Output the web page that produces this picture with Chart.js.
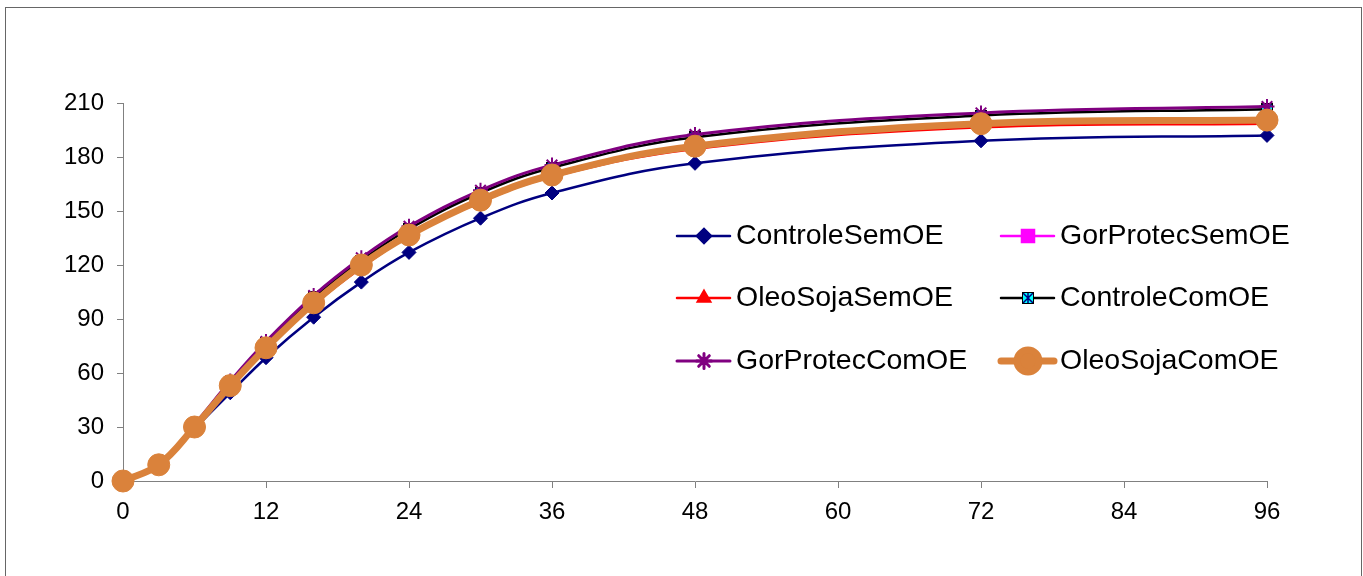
<!DOCTYPE html>
<html>
<head>
<meta charset="utf-8">
<script src="https://cdn.jsdelivr.net/npm/chart.js@4"></script>
<style>
    html, body { margin: 0; padding: 0; background: #fff; }
    #wrap { width: 1363px; height: 576px; }
</style>
</head>
<body>
<div id="wrap"><canvas id="curvesChart" width="1363" height="576"></canvas></div>
<script>
    // Hours and cumulative values
    const hours = [0, 3, 6, 9, 12, 16, 20, 24, 30, 36, 48, 72, 96];
    const xTicks = [0, 12, 24, 36, 48, 60, 72, 84, 96];
    const yTicks = [0, 30, 60, 90, 120, 150, 180, 210];

    const controleSemOE   = [0, 8.5, 29, 49, 68.5, 91, 110.5, 127, 146, 160, 176.5, 189, 192];
    const gorProtecSemOE  = [0, 9, 30, 52.5, 73.5, 98.5, 119, 136.5, 155.5, 169.5, 185.5, 197.5, 200];
    const oleoSojaSemOE   = [0, 9, 30, 52.5, 73, 98, 118.5, 136, 155, 169, 184.5, 196.5, 198.5];
    const controleComOE   = [0, 9, 31, 55, 76.5, 102, 122.5, 140, 160, 174, 191, 203, 206.5];
    const gorProtecComOE  = [0, 9.5, 31.5, 55.5, 77.5, 103, 124, 141.5, 161.5, 175.5, 192.5, 204.5, 208];
    const oleoSojaComOE   = [0, 9, 30, 53, 74, 99, 120, 136.7, 156, 170, 186, 198.5, 200.5];

    const seriesNames = ['ControleSemOE', 'GorProtecSemOE', 'OleoSojaSemOE', 'ControleComOE', 'GorProtecComOE', 'OleoSojaComOE'];

    function toPoints(values) {
        return hours.map((h, i) => ({ x: h, y: values[i] }));
    }

    // cyan box with an X, like the Excel marker
    function boxX(size) {
        const c = document.createElement('canvas');
        c.width = size; c.height = size;
        const g = c.getContext('2d');
        g.fillStyle = '#00FFFF';
        g.fillRect(0, 0, size, size);
        g.strokeStyle = '#000080';
        g.lineWidth = 1.5;
        g.beginPath();
        g.moveTo(1, 1); g.lineTo(size - 1, size - 1);
        g.moveTo(size - 1, 1); g.lineTo(1, size - 1);
        g.moveTo(size / 2, 0); g.lineTo(size / 2, size);
        g.stroke();
        g.strokeStyle = '#000';
        g.lineWidth = 1;
        g.strokeRect(0.5, 0.5, size - 1, size - 1);
        return c;
    }
    const cyanX = boxX(12);

    const frame = {
        id: 'frame',
        beforeDraw(chart) {
            const c = chart.ctx;
            c.save();
            c.fillStyle = '#fff';
            c.fillRect(0, 0, chart.width, chart.height);
            c.strokeStyle = '#666';
            c.lineWidth = 1;
            c.strokeRect(5.5, 7.5, 1356, 620);
            c.restore();
        }
    };

    // two-column legend sitting inside the plot
    const insideLegend = {
        id: 'insideLegend',
        afterDraw(chart) {
            const c = chart.ctx;
            const cols = [677, 1001];
            const rows = [236, 298, 361];
            c.save();
            chart.data.datasets.forEach((ds, i) => {
                const x = cols[i % 2];
                const y = rows[Math.floor(i / 2)];
                c.strokeStyle = ds.borderColor;
                c.lineWidth = ds.borderWidth;
                c.lineCap = 'round';
                c.beginPath();
                c.moveTo(x, y);
                c.lineTo(x + 53, y);
                c.stroke();
                c.fillStyle = ds.pointBackgroundColor;
                c.strokeStyle = ds.pointBorderColor;
                Chart.helpers.drawPoint(c, {
                    pointStyle: ds.pointStyle,
                    radius: ds.pointRadius,
                    borderWidth: ds.pointBorderWidth,
                    rotation: 0
                }, x + 27, y);
                c.fillStyle = '#000';
                c.font = '28.5px "Liberation Sans", Arial, sans-serif';
                c.textBaseline = 'middle';
                c.fillText(ds.label, x + 59, y);
            });
            c.restore();
        }
    };

    const styles = [
        { color: '#000080', fill: '#000080', style: 'rectRot', r: 7, w: 2.5 },
        { color: '#FF00FF', fill: '#FF00FF', style: 'rect', r: 8.5, w: 2.5 },
        { color: '#FF0000', fill: '#FF0000', style: 'triangle', r: 7, w: 2.5 },
        { color: '#000000', fill: '#00FFFF', style: cyanX, r: 6, w: 2.5 },
        { color: '#800080', fill: '#800080', style: 'star', r: 7.5, w: 3 },
        { color: '#DA823B', fill: '#DA823B', style: 'circle', r: 11, w: 7 }
    ];
    const allValues = [controleSemOE, gorProtecSemOE, oleoSojaSemOE, controleComOE, gorProtecComOE, oleoSojaComOE];

    const datasets = allValues.map((vals, i) => ({
        label: seriesNames[i],
        data: toPoints(vals),
        borderColor: styles[i].color,
        backgroundColor: styles[i].fill,
        pointBackgroundColor: styles[i].fill,
        pointBorderColor: styles[i].style === 'star' ? styles[i].color : styles[i].fill,
        pointBorderWidth: styles[i].style === 'star' ? 2 : 1,
        pointStyle: styles[i].style,
        pointRadius: styles[i].r,
        pointHoverRadius: styles[i].r,
        borderWidth: styles[i].w,
        tension: 0.4,
        clip: false,
        order: allValues.length - i
    }));

    const ctx = document.getElementById('curvesChart').getContext('2d');
    Chart.defaults.font.family = '"Liberation Sans", Arial, sans-serif';
    Chart.defaults.font.size = 24;
    Chart.defaults.color = '#000';

    new Chart(ctx, {
        type: 'line',
        data: { datasets: datasets },
        options: {
            responsive: false,
            animation: false,
            layout: { padding: { left: 0, top: 103, right: 96, bottom: 0 } },
            plugins: {
                legend: { display: false },
                tooltip: { enabled: false }
            },
            scales: {
                x: {
                    type: 'linear',
                    min: 0,
                    max: 96,
                    afterFit(scale) { scale.height = 95; },
                    afterBuildTicks(scale) { scale.ticks = xTicks.map(v => ({ value: v })); },
                    ticks: { padding: 10, maxRotation: 0 },
                    grid: { drawOnChartArea: false, tickLength: 7, tickColor: '#808080' },
                    border: { color: '#808080', width: 1 }
                },
                y: {
                    min: 0,
                    max: 210,
                    afterFit(scale) { scale.width = 123; },
                    afterBuildTicks(scale) { scale.ticks = yTicks.map(v => ({ value: v })); },
                    ticks: { padding: 13 },
                    grid: { drawOnChartArea: false, tickLength: 6, tickColor: '#808080' },
                    border: { color: '#808080', width: 1 }
                }
            }
        },
        plugins: [frame, insideLegend]
    });
</script>
</body>
</html>
